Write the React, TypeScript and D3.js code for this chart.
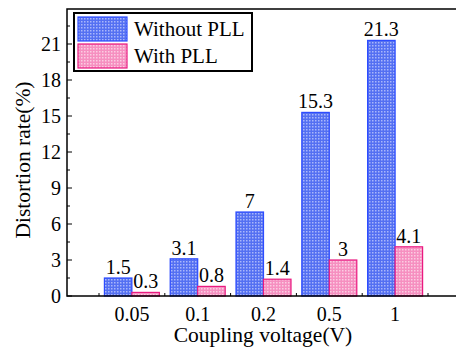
import React from 'react';
import * as d3 from 'd3';

// chart data
const categories = ['0.05', '0.1', '0.2', '0.5', '1'];
const withoutPLL = [1.5, 3.1, 7, 15.3, 21.3];
const withPLL = [0.3, 0.8, 1.4, 3, 4.1];
const yTicks = [0, 3, 6, 9, 12, 15, 18, 21];
const seriesNames = ['Without PLL', 'With PLL'];

const W = 456;
const H = 347;
const font = '"Liberation Serif", "Times New Roman", serif';

const App = () => {
  // plot area
  const left = 67;
  const top = 9;
  const bottom = 296;
  const right = 460;

  const x = d3.scaleBand<string>().domain(categories).range([99, 428]).paddingInner(0).paddingOuter(0);
  const y = d3.scaleLinear().domain([0, 24]).range([bottom, 8]);
  const barW = 27.5;

  const minorTicks = d3.range(1.5, 24, 3);
  const bounds = d3.range(0, categories.length + 1).map((i) => 99 + i * x.step());

  const series = [
    { name: seriesNames[0], values: withoutPLL, fill: 'url(#blueDots)', stroke: '#2d4cff', off: -barW },
    { name: seriesNames[1], values: withPLL, fill: 'url(#pinkDots)', stroke: '#ea1a80', off: 0 },
  ];

  return (
    <div style={{ position: 'fixed', left: 0, top: 0 }}>
      <svg width={W} height={H} style={{ display: 'block', background: '#fff' }} fontFamily={font}>
        <defs>
          <pattern id="blueDots" width="3" height="3" patternUnits="userSpaceOnUse">
            <rect width="3" height="3" fill="#5470f2" />
            <rect width="1.5" height="1.5" fill="#a9b6fb" />
          </pattern>
          <pattern id="pinkDots" width="3" height="3" patternUnits="userSpaceOnUse">
            <rect width="3" height="3" fill="#f68fc0" />
            <rect width="1.5" height="1.5" fill="#fbcde2" />
          </pattern>
        </defs>

        {/* bars */}
        {series.map((s) =>
          s.values.map((v, i) => {
            const cx = (x(categories[i]) as number) + x.bandwidth() / 2;
            return (
              <g key={s.name + i}>
                <rect
                  x={cx + s.off}
                  y={y(v)}
                  width={barW}
                  height={y(0) - y(v)}
                  fill={s.fill}
                  stroke={s.stroke}
                  strokeWidth={1.2}
                />
                <text x={cx + s.off + barW / 2} y={y(v) - 4} textAnchor="middle" fontSize={20} fill="#000">
                  {v}
                </text>
              </g>
            );
          })
        )}

        {/* frame */}
        <rect x={left} y={top} width={right - left} height={bottom - top} fill="none" stroke="#000" strokeWidth={1.5} />

        {/* y ticks */}
        {yTicks.map((t) => (
          <g key={'y' + t}>
            <line x1={left} x2={left + 5} y1={y(t)} y2={y(t)} stroke="#000" strokeWidth={1} />
            <text x={left - 6} y={y(t) + 7} textAnchor="end" fontSize={20}>
              {t}
            </text>
          </g>
        ))}
        {minorTicks.map((t) => (
          <line key={'m' + t} x1={left} x2={left + 3} y1={y(t)} y2={y(t)} stroke="#000" strokeWidth={1} />
        ))}

        {/* x ticks */}
        {bounds.map((b) => (
          <line key={'b' + b} x1={b} x2={b} y1={bottom} y2={bottom - 3} stroke="#000" strokeWidth={1} />
        ))}
        {categories.map((c) => (
          <text key={'x' + c} x={(x(c) as number) + x.bandwidth() / 2} y={321} textAnchor="middle" fontSize={20}>
            {c}
          </text>
        ))}

        {/* axis titles */}
        <text x={263} y={342} textAnchor="middle" fontSize={21.5}>
          Coupling voltage(V)
        </text>
        <text transform={`translate(30,${160}) rotate(-90)`} textAnchor="middle" fontSize={21.5}>
          Distortion rate(%)
        </text>

        {/* legend */}
        <rect x={74} y={13} width={178} height={58} fill="#fff" stroke="#000" strokeWidth={2} />
        {series.map((s, i) => (
          <g key={'lg' + i}>
            <rect x={78} y={17 + i * 27} width={49} height={24} fill={s.fill} stroke={s.stroke} strokeWidth={1.2} />
            <text x={134} y={36 + i * 27} fontSize={21}>
              {s.name}
            </text>
          </g>
        ))}
      </svg>
    </div>
  );
};

export default App;
